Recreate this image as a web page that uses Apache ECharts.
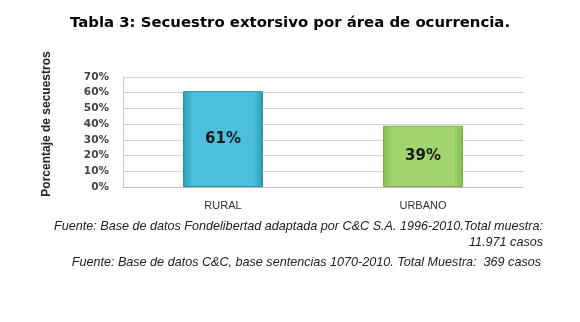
<!DOCTYPE html>
<html>
<head>
<meta charset="utf-8">
<script src="https://cdn.jsdelivr.net/npm/echarts@6/dist/echarts.min.js"></script>
<style>
  html, body { margin: 0; padding: 0; background: #fff; }
  #chart { width: 580px; height: 322px; }
</style>
</head>
<body>
<div id="chart"></div>
<script>
  var categories = ['RURAL', 'URBANO'];
  var values = [61, 39];
  var yTicks = [0, 10, 20, 30, 40, 50, 60, 70];
  var titleText = 'Tabla 3: Secuestro extorsivo por área de ocurrencia.';
  var yName = 'Porcentaje de secuestros';
  var notes = [
    'Fuente: Base de datos Fondelibertad adaptada por C&C S.A. 1996-2010.Total muestra:',
    '11.971 casos',
    'Fuente: Base de datos C&C, base sentencias 1070-2010. Total Muestra:  369 casos'
  ];

  function barGrad(edge, mid) {
    return new echarts.graphic.LinearGradient(0, 0, 1, 0, [
      { offset: 0, color: edge },
      { offset: 0.12, color: mid },
      { offset: 0.88, color: mid },
      { offset: 1, color: edge }
    ]);
  }
  var barColors = [barGrad('#2b9cb8', '#4bbfdb'), barGrad('#84bd52', '#a2d46f')];
  var noteFont = 'italic 12.6px "Liberation Sans"';

  var chart = echarts.init(document.getElementById('chart'));
  var option = {
    animation: false,
    title: {
      text: titleText,
      left: 'center',
      top: 11,
      textStyle: {
        fontFamily: 'DejaVu Sans',
        fontWeight: 'bold',
        fontSize: 14.9,
        color: '#000'
      }
    },
    grid: {
      left: 123,
      right: 57,
      top: 77,
      bottom: 135
    },
    xAxis: {
      type: 'category',
      data: categories,
      axisLine: { lineStyle: { color: '#bdbdbd' } },
      axisTick: { show: false },
      axisLabel: {
        margin: 13,
        fontFamily: 'Liberation Sans',
        fontSize: 11,
        color: '#333'
      }
    },
    yAxis: {
      type: 'value',
      min: yTicks[0],
      max: yTicks[yTicks.length - 1],
      interval: 10,
      axisLine: { show: true, lineStyle: { color: '#c8c8c8' } },
      axisTick: { show: false },
      splitLine: { lineStyle: { color: '#d2d2d2' } },
      axisLabel: {
        margin: 14,
        fontFamily: 'DejaVu Sans',
        fontWeight: 'bold',
        fontSize: 10.5,
        color: '#444',
        formatter: '{value}%'
      }
    },
    series: [{
      type: 'bar',
      barWidth: '40%',
      data: values.map(function (v, i) {
        return { value: v, itemStyle: { color: barColors[i], borderColor: i === 0 ? '#2a8fa8' : '#7cae4c', borderWidth: 1 } };
      }),
      label: {
        show: true,
        position: 'inside',
        formatter: '{c}%',
        fontFamily: 'DejaVu Sans',
        fontWeight: 'bold',
        fontSize: 15,
        color: '#1a1a1a'
      }
    }],
    graphic: [
      {
        type: 'text', x: 47, y: 124, rotation: Math.PI / 2,
        style: { text: yName, font: 'bold 12px "Liberation Sans"', fill: '#222', align: 'center', verticalAlign: 'middle' }
      },
      { type: 'text', right: 37, top: 220, style: { text: notes[0], font: noteFont, fill: '#222' } },
      { type: 'text', right: 37, top: 236, style: { text: notes[1], font: noteFont, fill: '#222' } },
      { type: 'text', right: 39, top: 256, style: { text: notes[2], font: noteFont, fill: '#222' } }
    ]
  };
  chart.setOption(option);
</script>
</body>
</html>
